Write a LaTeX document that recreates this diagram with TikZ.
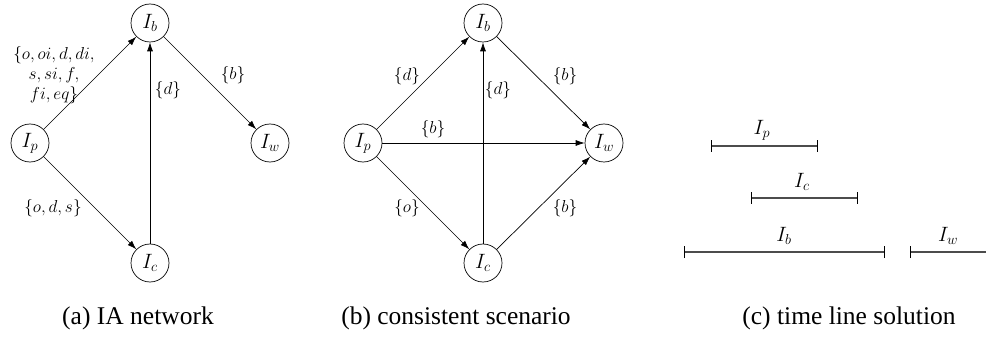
\documentclass[tikz,border=0pt]{standalone}
\usepackage{fontspec}
\setmainfont{Liberation Serif}
\usetikzlibrary{arrows.meta}
\begin{document}
\begin{tikzpicture}[x=1pt,y=-1pt,
  vert/.style={draw,circle,minimum size=38pt,inner sep=0pt,line width=0.7pt,font=\fontsize{20}{22}\selectfont},
  rel/.style={font=\fontsize{18}{20}\selectfont},
  edge/.style={draw,line width=0.7pt,-{Latex[length=9pt,width=6pt]}},
  caption/.style={font=\rmfamily\fontsize{25.5}{28}\selectfont},
  seg/.style={draw=black!70,line width=1.3pt},
  tick/.style={draw,line width=0.7pt},
  tlabel/.style={font=\fontsize{20}{22}\selectfont}]
\useasboundingbox (0,0) rectangle (986,342);
% panel (a)
\node[vert] (aIb) at (150,23) {$I_b$};
\node[vert] (aIp) at (30,143) {$I_p$};
\node[vert] (aIc) at (150,263) {$I_c$};
\node[vert] (aIw) at (270,143) {$I_w$};
\path[edge] (aIp) -- (aIb);
\path[edge] (aIp) -- (aIc);
\path[edge] (aIc) -- (aIb);
\path[edge] (aIb) -- (aIw);
\node[rel,align=center] (la1) at (54,75) {$\{o,oi,d,di,$\\$s,si,f,$\\$fi,eq\}$};
\node[rel] (la2) at (168,90) {$\{d\}$};
\node[rel] (la3) at (233,75) {$\{b\}$};
\node[rel] (la4) at (53,208) {$\{o,d,s\}$};
% panel (b)
\node[vert] (bIb) at (483,23) {$I_b$};
\node[vert] (bIp) at (363,143) {$I_p$};
\node[vert] (bIc) at (483,263) {$I_c$};
\node[vert] (bIw) at (604,143) {$I_w$};
\path[edge] (bIp) -- (bIb);
\path[edge] (bIp) -- (bIw);
\path[edge] (bIp) -- (bIc);
\path[edge] (bIc) -- (bIb);
\path[edge] (bIb) -- (bIw);
\path[edge] (bIc) -- (bIw);
\node[rel] (lb1) at (407,76) {$\{d\}$};
\node[rel] (lb2) at (498,90) {$\{d\}$};
\node[rel] (lb3) at (565,76) {$\{b\}$};
\node[rel] (lb4) at (433,129) {$\{b\}$};
\node[rel] (lb5) at (407,208) {$\{o\}$};
\node[rel] (lb6) at (565,208) {$\{b\}$};
% panel (c)
\coordinate (p1) at (711,146); \coordinate (p2) at (817,146);
\coordinate (c1) at (751,198); \coordinate (c2) at (857,198);
\coordinate (b1) at (684,252); \coordinate (b2) at (884,252);
\coordinate (w1) at (910,252); \coordinate (w2) at (986,252);
\path[seg] (p1) -- (p2);
\path[seg] (c1) -- (c2);
\path[seg] (b1) -- (b2);
\path[seg] (w1) -- (w2);
\foreach \q in {p1,p2,c1,c2,b1,b2,w1}{\path[tick] ([yshift=-6pt]\q) -- ([yshift=6pt]\q);}
\node[tlabel] (tp) at (762,130) {$I_p$};
\node[tlabel] (tc) at (802,182) {$I_c$};
\node[tlabel] (tb) at (784,236) {$I_b$};
\node[tlabel] (tw) at (948,236) {$I_w$};
% captions
\node[caption] (ca) at (138,318) {(a) IA network};
\node[caption] (cb) at (456,318) {(b) consistent scenario};
\node[caption] (cc) at (849,318) {(c) time line solution};
\end{tikzpicture}
\end{document}
